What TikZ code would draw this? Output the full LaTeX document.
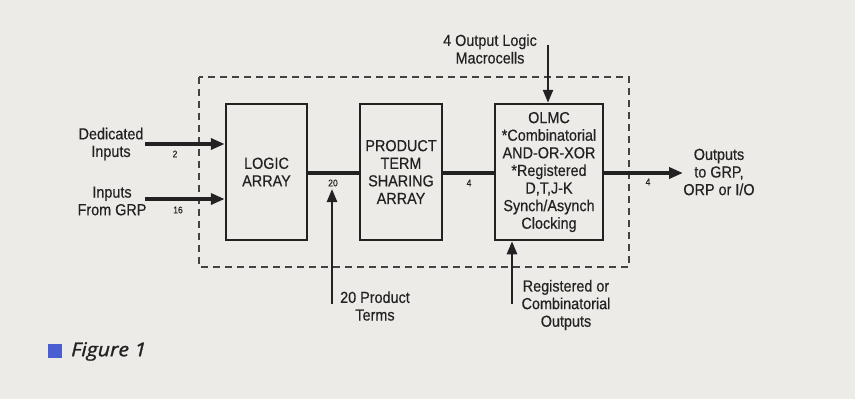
\documentclass[tikz,border=0pt]{standalone}
\usepackage{fontspec}
\setmainfont{Liberation Sans}[FakeStretch=0.9,FakeBold=0.4]
\newfontfamily\figfont{Open Sans}[FakeBold=1.3,FakeStretch=1.12]
\usetikzlibrary{arrows.meta}
\definecolor{bgc}{HTML}{EDEBE8}
\definecolor{ink}{HTML}{222222}
\definecolor{figblue}{HTML}{4A5ED2}
\begin{document}
\begin{tikzpicture}[x=1pt,y=-1pt,
  txt/.style={text=ink,align=center,inner sep=0pt,font=\fontsize{16}{17.6}\selectfont},
  small/.style={text=ink,inner sep=0pt,font=\fontsize{9.5}{10}\selectfont},
  blockbox/.style={draw=ink,line width=2.5pt,rectangle,minimum height=136pt,inner sep=0pt,
    align=center,text=ink,font=\fontsize{16}{17.6}\selectfont},
  busline/.style={draw=ink,line width=4pt},
  busarrow/.style={draw=ink,line width=4pt,-{Triangle[length=14pt,width=11pt]}},
  thinarrow/.style={draw=ink,line width=2.5pt,-{Triangle[length=13pt,width=10pt]}},
  dashbox/.style={draw=ink!85,line width=1.4pt,dash pattern=on 7pt off 5pt}]
\fill[bgc] (0,0) rectangle (855,399);
\useasboundingbox (0,0) rectangle (855,399);

% dashed enclosure
\draw[dashbox] (199,77) rectangle (629,267);

% blocks
\node[blockbox,minimum width=81pt] (la) at (266.5,172) {LOGIC\\ARRAY};
\node[blockbox,minimum width=82pt] (ptsa) at (401,172) {PRODUCT\\TERM\\SHARING\\ARRAY};
\node[blockbox,minimum width=108pt] (olmc) at (549,172) {OLMC\\*Combinatorial\\AND-OR-XOR\\*Registered\\D,T,J-K\\Synch/Asynch\\Clocking};

% inputs
\node[txt] (ded) at (111,144) {Dedicated\\Inputs};
\node[txt] (grp) at (112,201) {Inputs\\From GRP};
\coordinate (d1) at (145,144);
\coordinate (g1) at (145,199);
\draw[busarrow] (d1) -- (d1 -| la.west);
\draw[busarrow] (g1) -- (g1 -| la.west);
\node[small] (n2) at (175,154) {2};
\node[small] (n16) at (178,210) {16};

% internal buses
\coordinate (bus) at (0,173);
\draw[busline] (bus -| la.east) -- (bus -| ptsa.west);
\draw[busline] (bus -| ptsa.east) -- (bus -| olmc.west);
\node[small] (n20) at (333,183) {20};
\node[small] (n4a) at (469,183) {4};

% product terms
\node[txt] (pt) at (375,306) {20 Product\\Terms};
\coordinate (pt0) at (332,304);
\coordinate (pt1) at (332,189);
\draw[thinarrow] (pt0) -- (pt1);

% top macrocells
\node[txt] (mc) at (490,49) {4 Output Logic\\Macrocells};
\coordinate (mc0) at (548,45);
\draw[thinarrow] (mc0) -- (mc0 |- olmc.north);

% registered outputs
\node[txt] (ro) at (566,305) {Registered or\\Combinatorial\\Outputs};
\coordinate (ro0) at (512,304);
\draw[thinarrow] (ro0) -- (ro0 |- olmc.south);

% outputs
\coordinate (o1) at (683,173);
\draw[busarrow] (bus -| olmc.east) -- (o1);
\node[small] (n4b) at (648,182) {4};
\node[txt] (out) at (719,172) {Outputs\\to GRP,\\ORP or I/O};

% figure caption
\fill[figblue] (48,344) rectangle (62,358) coordinate (sq);
\node[anchor=west,inner sep=0pt,text=ink,font=\figfont\itshape\fontsize{19}{22}\selectfont] (cap) at (71,351.5) {Figure 1};
\end{tikzpicture}
\end{document}
